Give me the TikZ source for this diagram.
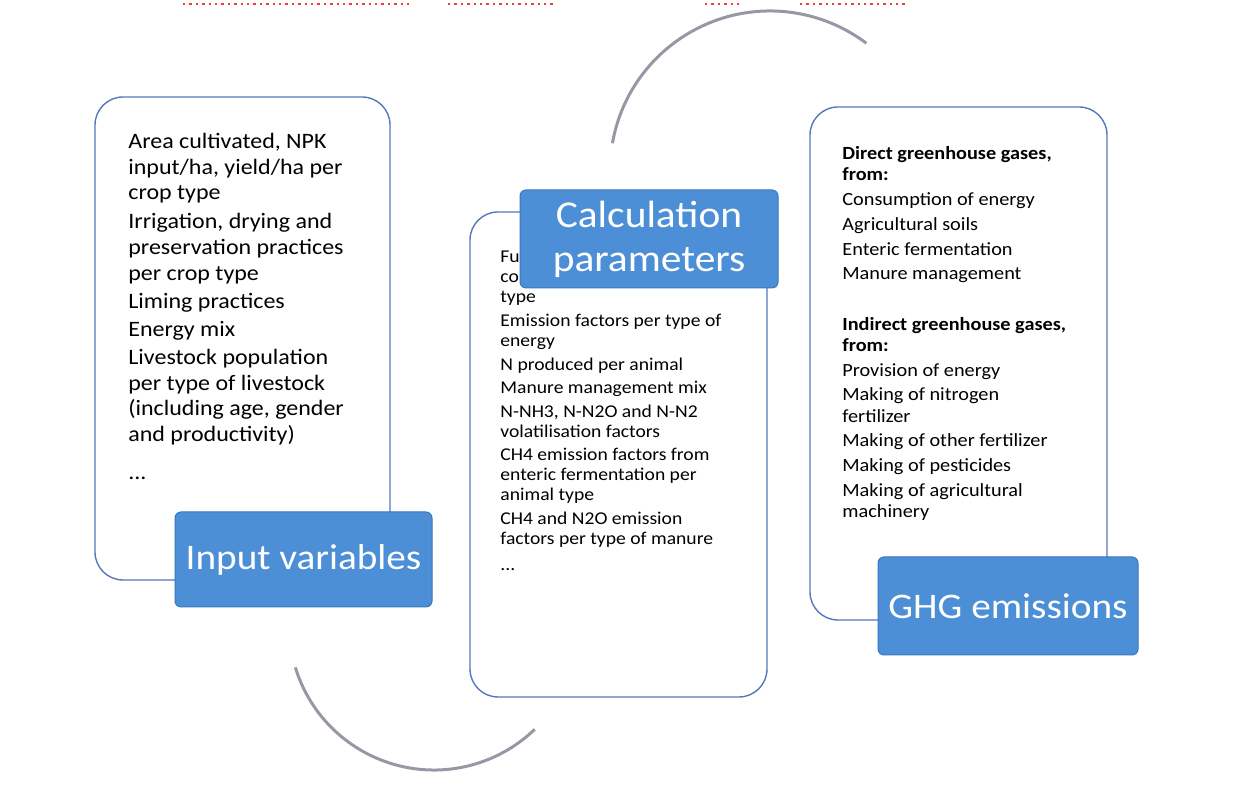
\documentclass[tikz,border=0pt]{standalone}
\usepackage{fontspec}
\setmainfont{Carlito}[FakeStretch=1.09]
\usetikzlibrary{calc,positioning}

\definecolor{boxline}{RGB}{84,120,186}
\definecolor{labelblue}{RGB}{76,143,214}
\definecolor{labeledge}{RGB}{58,118,188}
\definecolor{arcgray}{RGB}{150,152,165}

\tikzset{
  panel/.style={draw=boxline, line width=0.7pt, rounded corners=14pt, fill=white, inner sep=0pt},
  tag/.style={fill=labelblue, draw=labeledge, line width=0.5pt, rounded corners=3pt, text=white,
    inner sep=0pt, align=center, font=\fontsize{18}{22}\selectfont},
  body/.style={anchor=north west, inner sep=0pt, align=left},
}

\begin{document}
\begin{tikzpicture}[x=0.5pt,y=0.5pt]
  \useasboundingbox (0,0) rectangle (1237,785);
  \begin{scope}
    \draw[red!80, dotted, line width=1.2pt] (183,781) -- (410,781);
    \draw[red!80, dotted, line width=1.2pt] (448,781) -- (555,781);
    \draw[red!80, dotted, line width=1.2pt] (705,781) -- (740,781);
    \draw[red!80, dotted, line width=1.2pt] (800,781) -- (905,781);

    \coordinate (topc) at (770,614);
    \coordinate (botc) at (434,160);
    \draw[arcgray, line width=1.5pt] ($(topc)+(170:80pt)$) arc[start angle=170, end angle=53, radius=80pt];
    \draw[arcgray, line width=1.5pt] ($(botc)+(197:72.5pt)$) arc[start angle=197, end angle=314, radius=72.5pt];

    \node[panel, minimum width=147.5pt, minimum height=241.5pt] (inbox) at (242.5,446.5) {};
    \node[panel, minimum width=148.5pt, minimum height=242.5pt] (calcbox) at (618.5,330.5) {};
    \node[panel, minimum width=148.5pt, minimum height=256.5pt] (ghgbox) at (958.5,421.5) {};

    \node[body, font=\fontsize{11}{12.8}\selectfont] (intext) at (128,652) {Area cultivated, NPK\\
      input/ha, yield/ha per\\ crop type\\[1.7pt]
      Irrigation, drying and\\ preservation practices\\ per crop type\\[1.5pt]
      Liming practices\\[1.2pt]
      Energy mix\\[1.2pt]
      Livestock population\\ per type of livestock\\ (including age, gender\\ and productivity)\\[6pt]
      ...};

    \node[body, font=\fontsize{9}{10}\selectfont] (calctext) at (500,535) {Fuel and electricity\\
      consumption per crop\\ type\\[1.8pt]
      Emission factors per type of\\ energy\\[1.8pt]
      N produced per animal\\[1.8pt]
      Manure management mix\\[1.8pt]
      N-NH3, N-N2O and N-N2\\ volatilisation factors\\[1.8pt]
      CH4 emission factors from\\ enteric fermentation per\\ animal type\\[1.8pt]
      CH4 and N2O emission\\ factors per type of manure\\[2.8pt]
      ...};

    \node[body, font=\fontsize{9.3}{10.6}\selectfont] (ghgtext) at (842,639) {\textbf{Direct greenhouse gases,}\\
      \textbf{from:}\\[1.8pt]
      Consumption of energy\\[1.8pt]
      Agricultural soils\\[1.8pt]
      Enteric fermentation\\[1.8pt]
      Manure management\\[14.5pt]
      \textbf{Indirect greenhouse gases,}\\ \textbf{from:}\\[1.8pt]
      Provision of energy\\[1.8pt]
      Making of nitrogen\\ fertilizer\\[1.8pt]
      Making of other fertilizer\\[1.8pt]
      Making of pesticides\\[1.8pt]
      Making of agricultural\\ machinery};

    \node[tag, minimum width=128.5pt, minimum height=47.5pt] (inlabel) at (303.5,225.5) {Input variables};
    \node[tag, minimum width=129pt, minimum height=49pt, font=\fontsize{19}{22}\selectfont] (calclabel) at (649,546) {Calculation\\ parameters};
    \node[tag, minimum width=130pt, minimum height=49pt] (ghglabel) at (1008,179) {GHG emissions};
  \end{scope}
\end{tikzpicture}
\end{document}
